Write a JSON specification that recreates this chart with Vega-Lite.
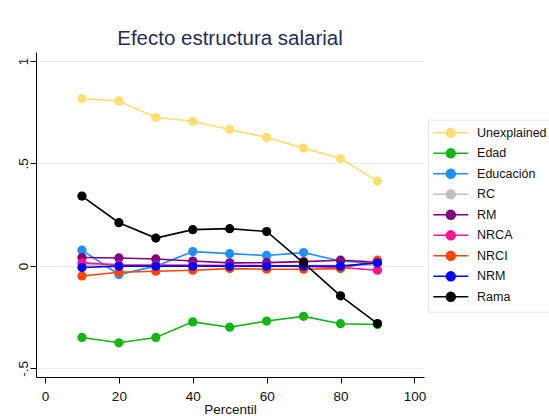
{
  "$schema": "https://vega.github.io/schema/vega-lite/v6.json",
  "width": 388,
  "height": 325,
  "autosize": {"type": "none"},
  "padding": {"left": 36, "top": 52, "right": 125, "bottom": 39},
  "background": "white",
  "config": {
    "view": {"stroke": null},
    "font": "Liberation Sans"
  },
  "title": {
    "text": "Efecto estructura salarial",
    "fontSize": 20.5,
    "fontWeight": "normal",
    "color": "#1f2d56",
    "font": "Liberation Sans",
    "anchor": "middle",
    "frame": "group",
    "baseline": "alphabetic",
    "offset": -13
  },
  "data": {
    "values": [
      {"p": 10, "s": "Unexplained", "v": 0.817},
      {"p": 20, "s": "Unexplained", "v": 0.805},
      {"p": 30, "s": "Unexplained", "v": 0.724},
      {"p": 40, "s": "Unexplained", "v": 0.706},
      {"p": 50, "s": "Unexplained", "v": 0.666},
      {"p": 60, "s": "Unexplained", "v": 0.627},
      {"p": 70, "s": "Unexplained", "v": 0.575},
      {"p": 80, "s": "Unexplained", "v": 0.524},
      {"p": 90, "s": "Unexplained", "v": 0.414},
      {"p": 10, "s": "Edad", "v": -0.349},
      {"p": 20, "s": "Edad", "v": -0.375},
      {"p": 30, "s": "Edad", "v": -0.349},
      {"p": 40, "s": "Edad", "v": -0.273},
      {"p": 50, "s": "Edad", "v": -0.299},
      {"p": 60, "s": "Edad", "v": -0.269},
      {"p": 70, "s": "Edad", "v": -0.246},
      {"p": 80, "s": "Edad", "v": -0.282},
      {"p": 90, "s": "Edad", "v": -0.286},
      {"p": 10, "s": "Educación", "v": 0.077},
      {"p": 20, "s": "Educación", "v": -0.042},
      {"p": 30, "s": "Educación", "v": -0.001},
      {"p": 40, "s": "Educación", "v": 0.070},
      {"p": 50, "s": "Educación", "v": 0.060},
      {"p": 60, "s": "Educación", "v": 0.051},
      {"p": 70, "s": "Educación", "v": 0.065},
      {"p": 80, "s": "Educación", "v": 0.024},
      {"p": 90, "s": "Educación", "v": 0.012},
      {"p": 10, "s": "RC", "v": 0.004},
      {"p": 20, "s": "RC", "v": 0.003},
      {"p": 30, "s": "RC", "v": 0.003},
      {"p": 40, "s": "RC", "v": 0.002},
      {"p": 50, "s": "RC", "v": 0.002},
      {"p": 60, "s": "RC", "v": 0.002},
      {"p": 70, "s": "RC", "v": 0.002},
      {"p": 80, "s": "RC", "v": 0.003},
      {"p": 90, "s": "RC", "v": 0.004},
      {"p": 10, "s": "RM", "v": 0.041},
      {"p": 20, "s": "RM", "v": 0.039},
      {"p": 30, "s": "RM", "v": 0.034},
      {"p": 40, "s": "RM", "v": 0.024},
      {"p": 50, "s": "RM", "v": 0.015},
      {"p": 60, "s": "RM", "v": 0.016},
      {"p": 70, "s": "RM", "v": 0.021},
      {"p": 80, "s": "RM", "v": 0.028},
      {"p": 90, "s": "RM", "v": 0.019},
      {"p": 10, "s": "NRCA", "v": 0.015},
      {"p": 20, "s": "NRCA", "v": 0.005},
      {"p": 30, "s": "NRCA", "v": 0.004},
      {"p": 40, "s": "NRCA", "v": 0.003},
      {"p": 50, "s": "NRCA", "v": 0.002},
      {"p": 60, "s": "NRCA", "v": 0.001},
      {"p": 70, "s": "NRCA", "v": -0.002},
      {"p": 80, "s": "NRCA", "v": -0.008},
      {"p": 90, "s": "NRCA", "v": -0.021},
      {"p": 10, "s": "NRCI", "v": -0.049},
      {"p": 20, "s": "NRCI", "v": -0.031},
      {"p": 30, "s": "NRCI", "v": -0.026},
      {"p": 40, "s": "NRCI", "v": -0.021},
      {"p": 50, "s": "NRCI", "v": -0.013},
      {"p": 60, "s": "NRCI", "v": -0.016},
      {"p": 70, "s": "NRCI", "v": -0.016},
      {"p": 80, "s": "NRCI", "v": -0.013},
      {"p": 90, "s": "NRCI", "v": 0.028},
      {"p": 10, "s": "NRM", "v": -0.008},
      {"p": 20, "s": "NRM", "v": -0.001},
      {"p": 30, "s": "NRM", "v": -0.001},
      {"p": 40, "s": "NRM", "v": -0.001},
      {"p": 50, "s": "NRM", "v": -0.001},
      {"p": 60, "s": "NRM", "v": -0.001},
      {"p": 70, "s": "NRM", "v": -0.001},
      {"p": 80, "s": "NRM", "v": -0.001},
      {"p": 90, "s": "NRM", "v": 0.015},
      {"p": 10, "s": "Rama", "v": 0.341},
      {"p": 20, "s": "Rama", "v": 0.211},
      {"p": 30, "s": "Rama", "v": 0.136},
      {"p": 40, "s": "Rama", "v": 0.177},
      {"p": 50, "s": "Rama", "v": 0.182},
      {"p": 60, "s": "Rama", "v": 0.168},
      {"p": 70, "s": "Rama", "v": 0.015},
      {"p": 80, "s": "Rama", "v": -0.146},
      {"p": 90, "s": "Rama", "v": -0.281}
    ]
  },
  "encoding": {
    "x": {
      "field": "p",
      "type": "quantitative",
      "scale": {"domain": [-2.44, 102.6], "nice": false, "zero": false},
      "axis": {
        "values": [0, 20, 40, 60, 80, 100],
        "title": "Percentil",
        "titleFontSize": 13.5,
        "titleFontWeight": "normal",
        "titleColor": "#111",
        "titlePadding": 0,
        "labelFontSize": 13.5,
        "labelColor": "#111",
        "labelPadding": 6,
        "tickSize": 6,
        "tickColor": "#000",
        "domainColor": "#000",
        "grid": false,
        "labelFlush": false
      }
    },
    "y": {
      "field": "v",
      "type": "quantitative",
      "scale": {"domain": [-0.542, 1.044], "nice": false, "zero": false},
      "axis": {
        "values": [-0.5, 0, 0.5, 1],
        "labelExpr": "datum.value == 1 ? '1' : datum.value == 0.5 ? '.5' : datum.value == 0 ? '0' : '-.5'",
        "title": null,
        "labelAngle": 270,
        "labelAlign": "center",
        "labelBaseline": "alphabetic",
        "labelFontSize": 13.5,
        "labelColor": "#111",
        "labelPadding": 3,
        "tickSize": 6,
        "tickColor": "#000",
        "domainColor": "#000",
        "grid": true,
        "gridColor": "#e6eff1",
        "gridWidth": 1.2,
        "labelFlush": false
      }
    },
    "color": {
      "field": "s",
      "type": "nominal",
      "scale": {
        "domain": ["Unexplained", "Edad", "Educación", "RC", "RM", "NRCA", "NRCI", "NRM", "Rama"],
        "range": ["#fcde6e", "#14b414", "#1e90ff", "#c0c0c0", "#800080", "#ff1493", "#ff4500", "#0000ff", "#000000"]
      },
      "legend": {
        "title": null,
        "orient": "none",
        "legendX": 392.3,
        "legendY": 67.6,
        "padding": 7,
        "rowPadding": 4.5,
        "strokeColor": "#e3e7e8",
        "fillColor": "white",
        "labelFontSize": 12.5,
        "labelColor": "#111",
        "labelOffset": 20,
        "symbolOffset": 9.25,
        "symbolType": "M-3.5,0L3.5,0M-0.9,0A0.9,0.9,0,1,1,0.9,0A0.9,0.9,0,1,1,-0.9,0Z",
        "symbolSize": 100,
        "symbolStrokeWidth": 1.5,
        "encode": {
          "symbols": {
            "update": {
              "fill": {"scale": "color", "field": "value"},
              "stroke": {"scale": "color", "field": "value"},
              "strokeWidth": {"value": 1.5},
              "opacity": {"value": 1},
              "fillOpacity": {"value": 1}
            }
          }
        }
      }
    }
  },
  "layer": [
    {"mark": {"type": "line", "strokeWidth": 1.6}},
    {"mark": {"type": "circle", "size": 85, "opacity": 1}}
  ]
}
